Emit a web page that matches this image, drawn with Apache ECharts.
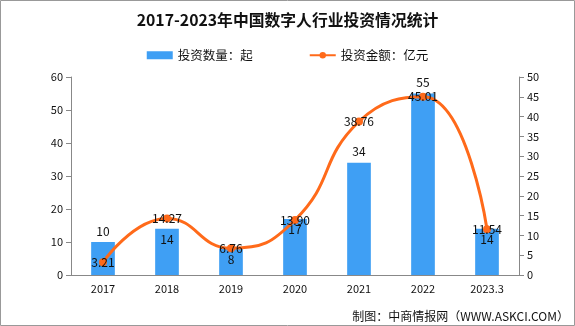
<!DOCTYPE html>
<html><head><meta charset="utf-8">
<script src="https://cdn.jsdelivr.net/npm/echarts@6/dist/echarts.min.js"></script>
<style>html,body{margin:0;padding:0;background:#fff}#c{width:575px;height:326px}</style>
</head><body><div id="c"></div>
<script>
const categories = ['2017','2018','2019','2020','2021','2022','2023.3'];
const dealCounts = [10,14,8,17,34,55,14];
const dealAmounts = [3.21,14.27,6.76,13.90,38.76,45.01,11.54];
const countLabelPos = ['top','insideTop','insideTop','insideTop','top','top','insideTop'];
const leftTicks = {min:0,max:60,interval:10};
const rightTicks = {min:0,max:50,interval:5};

const font = '"Noto Sans CJK SC", sans-serif';
const chart = echarts.init(document.getElementById('c'));
chart.setOption({
  animation:false,
  textStyle:{fontFamily:font},
  title:{text:'2017-2023年中国数字人行业投资情况统计',left:'center',top:7,
    textStyle:{fontSize:15.8,fontWeight:'bold',color:'#111',fontFamily:font}},
  legend:{top:44,left:'center',itemGap:56,itemWidth:26,itemHeight:8,
    textStyle:{fontSize:12.5,color:'#111',fontFamily:font},
    data:[{name:'投资数量：起',icon:'rect'},{name:'投资金额：亿元'}]},
  grid:{left:71,right:56,top:77,bottom:51},
  xAxis:{type:'category',data:categories,
    axisLine:{lineStyle:{color:'#888'}},axisTick:{lineStyle:{color:'#888'}},
    axisLabel:{color:'#111',fontSize:11,margin:8}},
  yAxis:[
    {type:'value',min:leftTicks.min,max:leftTicks.max,interval:leftTicks.interval,
     axisLine:{show:true,lineStyle:{color:'#888'}},axisTick:{show:true,lineStyle:{color:'#888'}},
     splitLine:{show:false},axisLabel:{color:'#111',fontSize:11}},
    {type:'value',min:rightTicks.min,max:rightTicks.max,interval:rightTicks.interval,
     axisLine:{show:true,lineStyle:{color:'#888'}},axisTick:{show:true,lineStyle:{color:'#888'}},
     splitLine:{show:false},axisLabel:{color:'#111',fontSize:11}}
  ],
  series:[
    {name:'投资数量：起',type:'bar',barWidth:'37%',yAxisIndex:0,
     itemStyle:{color:'#3F9FF4'},
     data:dealCounts.map((v,i)=>({value:v,label:{position:countLabelPos[i]}})),
     label:{show:true,color:'#111',fontSize:12,distance:5}},
    {name:'投资金额：亿元',type:'line',yAxisIndex:1,smooth:true,
     symbol:'circle',symbolSize:8,
     lineStyle:{color:'#FF6A1A',width:3},itemStyle:{color:'#FF6A1A'},
     data:dealAmounts,
     label:{show:true,position:'inside',color:'#111',fontSize:12,
       formatter:p=>p.value.toFixed(2)}}
  ],
  graphic:[
    {type:'rect',shape:{x:0.5,y:0.5,width:574,height:325},style:{fill:null,stroke:'#999',lineWidth:1},silent:true},
    {type:'text',right:6,bottom:4,style:{text:'制图：中商情报网（WWW.ASKCI.COM）',fontSize:12,fill:'#111',fontFamily:font}}
  ]
});
</script></body></html>
